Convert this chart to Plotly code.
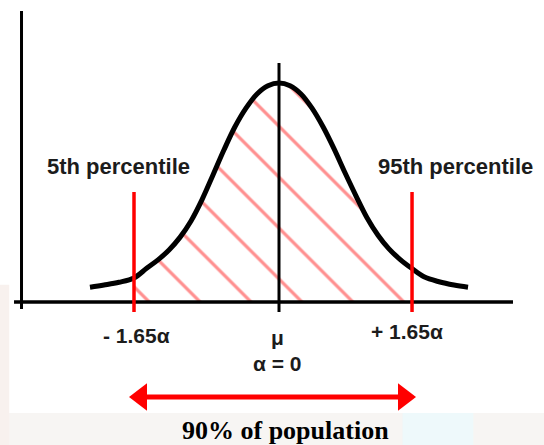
import plotly.graph_objects as go

# ---- data (x in σ units, y = density) ----
curve_x = [-2.245, -2.078, -1.900, -1.722, -1.568, -1.437, -1.306, -1.176, -1.045,
           -0.914, -0.784, -0.653, -0.523, -0.392, -0.261, -0.131, 0.0,
           0.131, 0.261, 0.392, 0.523, 0.653, 0.784, 0.914, 1.045, 1.176,
           1.306, 1.437, 1.580, 1.722, 1.900, 2.078, 2.245]
curve_y = [0.027, 0.031, 0.036, 0.044, 0.062, 0.077, 0.095, 0.118, 0.148,
           0.187, 0.232, 0.278, 0.320, 0.354, 0.380, 0.395, 0.400,
           0.395, 0.380, 0.354, 0.320, 0.280, 0.236, 0.194, 0.154, 0.122,
           0.097, 0.078, 0.061, 0.046, 0.037, 0.031, 0.027]

percentile_x = [-1.722, 1.580]
percentile_labels = ["5th percentile", "95th percentile"]
tick_labels = ["- 1.65α", "μ", "α = 0", "+ 1.65α"]
mean_x = 0.0
arrow_x = [-1.639, 1.485]
range_label = "90% of population"

# hatched region: curve between the two percentile lines
hx = [x for x in curve_x if percentile_x[0] <= x <= percentile_x[1]]
hy = [y for x, y in zip(curve_x, curve_y) if percentile_x[0] <= x <= percentile_x[1]]

RED = "#ff0000"
SMOOTH = 1.0
fig = go.Figure()

# hatched fill
fig.add_trace(go.Scatter(
    x=hx, y=hy, mode="lines", line=dict(width=0, shape="spline", smoothing=SMOOTH),
    fill="tozeroy", fillcolor="rgba(0,0,0,0)",
    fillpattern=dict(shape="\\", fgcolor="#ff2020",
                     bgcolor="rgba(0,0,0,0)", size=36, solidity=0.09),
    hoverinfo="skip", showlegend=False))

# axes lines (drawn in data coordinates)
fig.add_trace(go.Scatter(x=[-3.147, 2.779], y=[0, 0], mode="lines",
                         line=dict(color="black", width=3.5), showlegend=False, hoverinfo="skip"))
fig.add_trace(go.Scatter(x=[-3.058, -3.058], y=[-0.0128, 0.5315], mode="lines",
                         line=dict(color="black", width=3), showlegend=False, hoverinfo="skip"))
# mean line
fig.add_trace(go.Scatter(x=[mean_x, mean_x], y=[-0.0183, 0.4365], mode="lines",
                         line=dict(color="black", width=3), showlegend=False, hoverinfo="skip"))

# bell curve
fig.add_trace(go.Scatter(x=curve_x, y=curve_y, mode="lines",
                         line=dict(color="black", width=5, shape="spline", smoothing=SMOOTH),
                         showlegend=False, hoverinfo="skip"))

# percentile lines
for px in percentile_x:
    fig.add_trace(go.Scatter(x=[px, px], y=[-0.0183, 0.2009], mode="lines",
                             line=dict(color=RED, width=3.5), showlegend=False, hoverinfo="skip"))

# double-headed arrow
fig.add_trace(go.Scatter(x=arrow_x, y=[-0.1735, -0.1735], mode="lines",
                         line=dict(color=RED, width=5), showlegend=False, hoverinfo="skip"))
fig.add_trace(go.Scatter(x=arrow_x, y=[-0.1735, -0.1735], mode="markers",
                         marker=dict(symbol=["triangle-left", "triangle-right"], size=24,
                                     color=RED, line=dict(width=0)),
                         showlegend=False, hoverinfo="skip"))

lab_font = dict(family="Liberation Sans, Arial, sans-serif", size=22, color="#1c1c1c", weight="bold")
tick_font = dict(family="Liberation Sans, Arial, sans-serif", size=21, color="#1c1c1c", weight="bold")

ann = []
ann.append(dict(x=-1.906, y=0.2484, text=percentile_labels[0], font=lab_font))
ann.append(dict(x=2.096, y=0.2484, text=percentile_labels[1], font=lab_font))
ann.append(dict(x=-1.698, y=-0.0603, text=tick_labels[0], font=tick_font))
ann.append(dict(x=-0.012, y=-0.064, text=tick_labels[1], font=tick_font))
ann.append(dict(x=-0.012, y=-0.1132, text=tick_labels[2], font=tick_font))
ann.append(dict(x=1.520, y=-0.0530, text=tick_labels[3], font=tick_font))
ann.append(dict(x=0.083, y=-0.2338, text=range_label,
                font=dict(family="Liberation Serif, Times New Roman, serif", size=26,
                          color="black", weight="bold")))
for a in ann:
    a.update(xref="x", yref="y", showarrow=False, xanchor="center", yanchor="middle")

shapes = [
    dict(type="rect", xref="paper", yref="paper", x0=0, x1=1, y0=0, y1=0.0719,
         fillcolor="#f7f5f3", line=dict(width=0), layer="below"),
    dict(type="rect", xref="paper", yref="paper", x0=0.74, x1=0.87, y0=0, y1=0.0719,
         fillcolor="#eef9fb", line=dict(width=0), layer="below"),
    dict(type="rect", xref="paper", yref="paper", x0=0, x1=0.017, y0=0, y1=0.36,
         fillcolor="#f8f1ee", line=dict(width=0), layer="below"),
]

fig.update_layout(
    width=544, height=445,
    margin=dict(l=0, r=0, t=0, b=0),
    paper_bgcolor="white", plot_bgcolor="rgba(0,0,0,0)",
    xaxis=dict(range=[-3.3135, 3.1473], visible=False, fixedrange=True),
    yaxis=dict(range=[-0.2612, 0.5516], visible=False, fixedrange=True),
    annotations=ann, shapes=shapes, showlegend=False,
)

fig.write_html("out.html", config={"displayModeBar": False},
               post_script="document.body.style.margin='0';document.body.style.overflow='hidden';")
